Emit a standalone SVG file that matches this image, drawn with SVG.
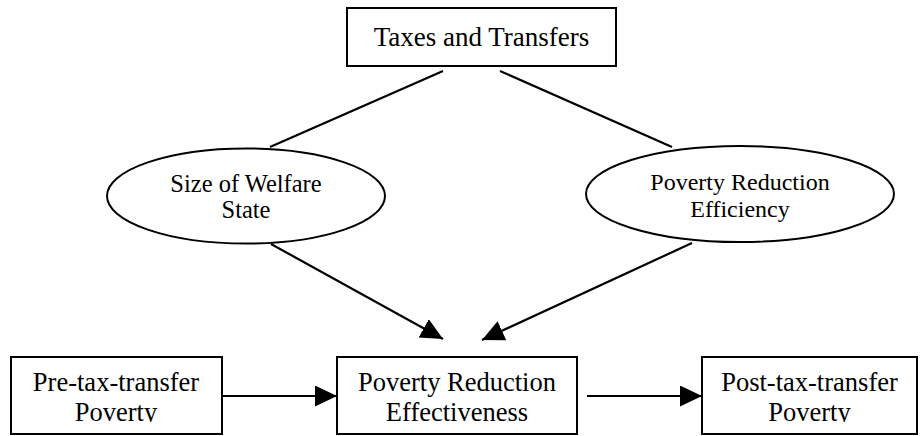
<svg xmlns="http://www.w3.org/2000/svg" width="921" height="436" viewBox="0 0 921 436">
<style>
.box{fill:#fff;stroke:#000;stroke-width:2}
.ell{fill:#fff;stroke:#000;stroke-width:2}
text{font-family:'Liberation Serif','DejaVu Serif',serif;fill:#000;text-anchor:middle}
.ln{stroke:#000;stroke-width:2.2;fill:none}
</style>
<defs>
<marker id="ah" markerUnits="userSpaceOnUse" markerWidth="23" markerHeight="22" refX="22" refY="10.5" orient="auto">
<path d="M0,0 L22,10.5 L0,21 z" fill="#000"/>
</marker>
<clipPath id="cb"><rect x="0" y="340" width="921" height="82"/></clipPath>
</defs>
<rect width="921" height="436" fill="#fff"/>
<g id="connectors">
<line class="ln" x1="443" y1="71" x2="270" y2="147"/>
<line class="ln" x1="500" y1="71" x2="672" y2="147"/>
<line class="ln" x1="271" y1="244" x2="443" y2="339" marker-end="url(#ah)"/>
<line class="ln" x1="692" y1="243" x2="482" y2="340" marker-end="url(#ah)"/>
<line class="ln" x1="222" y1="396" x2="337" y2="396" marker-end="url(#ah)"/>
<line class="ln" x1="587" y1="396" x2="702" y2="396" marker-end="url(#ah)"/>
</g>
<g id="taxes">
<rect class="box" x="347" y="8" width="269" height="58"/>
<text x="481.5" y="45.5" font-size="27">Taxes and Transfers</text>
</g>
<g id="size">
<ellipse class="ell" cx="246" cy="196" rx="139" ry="47.5"/>
<text x="246" y="191.5" font-size="24.5">Size of Welfare</text>
<text x="246" y="218" font-size="24.5">State</text>
</g>
<g id="efficiency">
<ellipse class="ell" cx="740" cy="194" rx="154" ry="48"/>
<text x="740" y="190" font-size="24">Poverty Reduction</text>
<text x="740" y="216.5" font-size="24">Efficiency</text>
</g>
<g id="pre">
<rect class="box" x="11" y="357" width="211" height="77"/>
<g clip-path="url(#cb)">
<text x="116" y="390.5" font-size="26.5">Pre-tax-transfer</text>
<text x="116" y="421" font-size="26.5">Poverty</text>
</g>
</g>
<g id="effectiveness">
<rect class="box" x="337" y="357" width="240" height="77"/>
<g clip-path="url(#cb)">
<text x="457" y="390.5" font-size="26.5">Poverty Reduction</text>
<text x="457" y="421" font-size="26.5">Effectiveness</text>
</g>
</g>
<g id="post">
<rect class="box" x="702" y="357" width="215" height="77"/>
<g clip-path="url(#cb)">
<text x="809.5" y="390.5" font-size="26.5">Post-tax-transfer</text>
<text x="809.5" y="421" font-size="26.5">Poverty</text>
</g>
</g>
</svg>
